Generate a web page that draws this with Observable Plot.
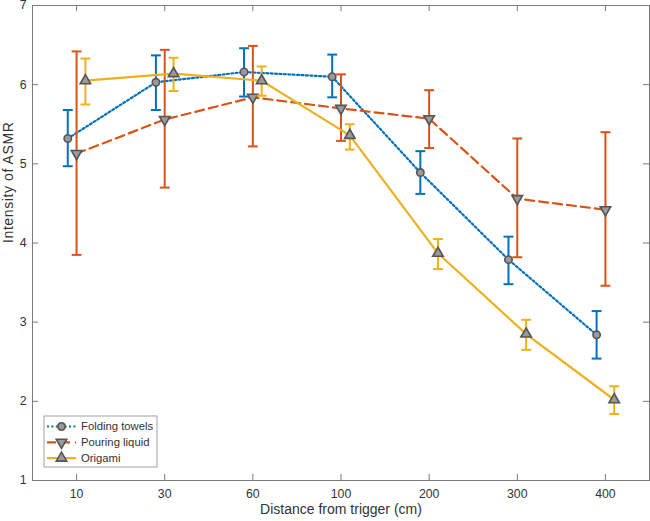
<!DOCTYPE html>
<html><head><meta charset="utf-8">
<script src="https://cdn.jsdelivr.net/npm/d3@7"></script>
<script src="https://cdn.jsdelivr.net/npm/@observablehq/plot@0.6"></script>
<style>body{margin:0;background:#fff;font-family:"Liberation Sans",Arial,sans-serif}</style>
</head><body><div id="chart"></div>
<script>
// ---- data ----
const distances = ["10","30","60","100","200","300","400"];
const seriesNames = ["Folding towels","Pouring liquid","Origami"];
const towelsMean = [5.32, 6.03, 6.16, 6.10, 4.89, 3.79, 2.84];
const towelsLow  = [4.97, 5.68, 5.85, 5.84, 4.62, 3.48, 2.54];
const towelsHigh = [5.68, 6.37, 6.46, 6.38, 5.16, 4.08, 3.14];
const pouringMean = [5.13, 5.56, 5.84, 5.70, 5.57, 4.56, 4.42];
const pouringLow  = [3.85, 4.70, 5.22, 5.29, 5.20, 3.82, 3.46];
const pouringHigh = [6.42, 6.44, 6.49, 6.13, 5.93, 5.32, 5.40];
const origamiMean = [6.05, 6.14, 6.05, 5.36, 3.87, 2.85, 2.02];
const origamiLow  = [5.75, 5.92, 5.86, 5.18, 3.67, 2.65, 1.84];
const origamiHigh = [6.33, 6.34, 6.23, 5.50, 4.05, 3.03, 2.19];
const yTicks = [1,2,3,4,5,6,7];
const xLabel = "Distance from trigger (cm)";
const yLabel = "Intensity of ASMR";

// ---- styling ----
const colors = ["#0072BD", "#D95319", "#EDB120"];
const dashes = ["2,2.4", "9,5", null];
const offsets = [-0.1, 0, 0.1];
const symbols = ["circle", "triangle", "triangle"];
const rotations = [0, 180, 0];
const radii = [3.7, 3.9, 3.9];
const capHalf = 0.056;

const seriesData = [
  [towelsMean, towelsLow, towelsHigh],
  [pouringMean, pouringLow, pouringHigh],
  [origamiMean, origamiLow, origamiHigh]
].map(([m, lo, hi], s) => distances.map((d, i) => ({
  series: seriesNames[s], s, d, x: i + 1 + offsets[s], mean: m[i], lo: lo[i], hi: hi[i]
})));

const W = 650, H = 521;
const mL = 32, mR = 1, mT = 5, mB = 41;
const plotW = W - mL - mR, plotH = H - mT - mB;
const xIdx = distances.map((d, i) => i + 1);
const axisColor = "#7a7a7a";
const textColor = "#333333";

const marks = [
  Plot.frame({stroke: axisColor, strokeWidth: 1}),
  // inward ticks on all four sides
  Plot.tickX(xIdx, {x: d => d, insetTop: plotH - 6, stroke: axisColor}),
  Plot.tickX(xIdx, {x: d => d, insetBottom: plotH - 6, stroke: axisColor}),
  Plot.tickY(yTicks, {y: d => d, insetRight: plotW - 6, stroke: axisColor}),
  Plot.tickY(yTicks, {y: d => d, insetLeft: plotW - 6, stroke: axisColor}),
  Plot.axisX(xIdx, {anchor: "bottom", tickSize: 0, tickPadding: 9, tickFormat: i => distances[i - 1], fontSize: 12.3, color: textColor, label: null}),
  Plot.axisY(yTicks, {anchor: "left", tickSize: 0, tickPadding: 6, tickFormat: d => String(d), fontSize: 12.3, color: textColor, label: null}),
  Plot.text([xLabel], {frameAnchor: "bottom", dy: 33, fontSize: 14, fill: textColor}),
  Plot.text([yLabel], {frameAnchor: "left", dx: -24, rotate: -90, fontSize: 14, fill: textColor})
];

seriesData.forEach((rows, s) => {
  marks.push(
    Plot.ruleX(rows, {x: "x", y1: "lo", y2: "hi", stroke: colors[s], strokeWidth: 2}),
    Plot.link(rows, {x1: r => r.x - capHalf, x2: r => r.x + capHalf, y1: "hi", y2: "hi", stroke: colors[s], strokeWidth: 2}),
    Plot.link(rows, {x1: r => r.x - capHalf, x2: r => r.x + capHalf, y1: "lo", y2: "lo", stroke: colors[s], strokeWidth: 2}),
    Plot.line(rows, {x: "x", y: "mean", stroke: colors[s], strokeWidth: 2.2, strokeDasharray: dashes[s]}),
    Plot.dot(rows, {x: "x", y: "mean", symbol: symbols[s], rotate: rotations[s], r: radii[s], fill: "#9a9a9a", stroke: "#555555", strokeWidth: 1.6})
  );
});

const chart = Plot.plot({
  width: W, height: H,
  marginLeft: mL, marginRight: mR, marginTop: mT, marginBottom: mB,
  style: {fontFamily: '"Liberation Sans", Arial, sans-serif', background: "#fff"},
  x: {type: "linear", domain: [0.5, 7.5], axis: null},
  y: {domain: [1, 7], axis: null},
  marks
});
document.getElementById("chart").appendChild(chart);
d3.select(chart).selectAll("text").filter(function() { return this.textContent === yLabel; })
  .style("letter-spacing", "0.6px");

// ---- legend ----
const svg = d3.select(chart);
const lg = svg.append("g").attr("transform", "translate(44,416)");
lg.append("rect").attr("width", 113).attr("height", 51).attr("fill", "#fff").attr("stroke", "#a0a0a0").attr("stroke-width", 1);
const symTypes = [d3.symbolCircle, d3.symbolTriangle, d3.symbolTriangle];
seriesNames.forEach((name, s) => {
  const g = lg.append("g").attr("transform", `translate(0,${10.5 + s * 15.8})`);
  g.append("line").attr("x1", 3).attr("x2", 32).attr("stroke", colors[s]).attr("stroke-width", 2.2)
    .attr("stroke-dasharray", dashes[s]);
  g.append("path").attr("d", d3.symbol(symTypes[s], Math.PI * radii[s] * radii[s])())
    .attr("transform", `translate(17.5,0) rotate(${rotations[s]})`)
    .attr("fill", "#9a9a9a").attr("stroke", "#555555").attr("stroke-width", 1.6);
  g.append("text").attr("x", 37).attr("dy", "0.35em").attr("text-anchor", "start")
    .attr("font-size", 11.3).attr("fill", textColor).text(name);
});
</script></body></html>
